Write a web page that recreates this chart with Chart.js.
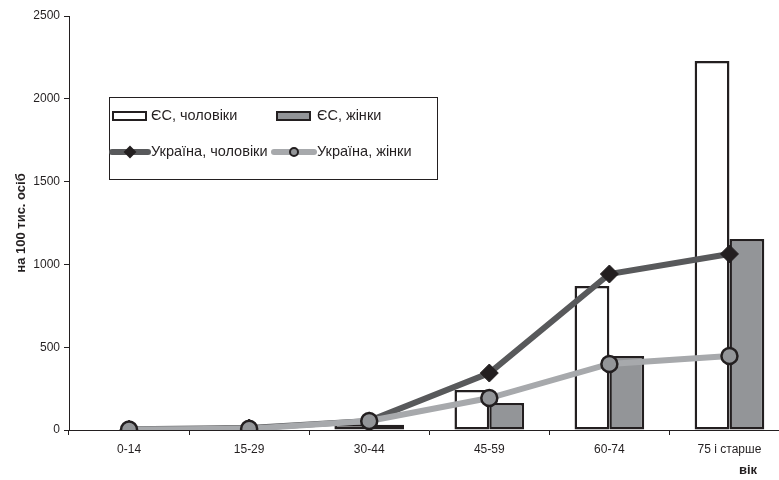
<!DOCTYPE html>
<html>
<head>
<meta charset="utf-8">
<script src="https://cdn.jsdelivr.net/npm/chart.js@4/dist/chart.umd.min.js"></script>
<style>
  html, body { margin: 0; padding: 0; background: #fff; overflow: hidden; }
  #wrap { width: 779px; height: 480px; overflow: hidden; position: relative; }
  canvas { display: block; }
</style>
</head>
<body>
<div id="wrap"><canvas id="c" width="800" height="480"></canvas></div>
<script>
// Age groups
const ageGroups = ['0-14', '15-29', '30-44', '45-59', '60-74', '75 і старше'];
// EU rates per 100 thousand
const euMen   = [3, 4, 35, 242, 870, 2228];
const euWomen = [2, 3, 32, 163, 447, 1153];
// Ukraine rates per 100 thousand
const uaMen   = [5, 12, 55, 344, 942, 1063];
const uaWomen = [3, 8, 54, 193, 399, 447];
// Value axis ticks
const yTicks = [0, 500, 1000, 1500, 2000, 2500];

const FONT = '"Liberation Sans", Arial, sans-serif';
const INK = '#231f20';

// Boxed two-column legend inside the plot area plus the "вік" caption
const decorPlugin = {
  id: 'decor',
  afterDraw(chart) {
    const ctx = chart.ctx;
    const ds = chart.data.datasets;
    ctx.save();
    // legend frame
    ctx.fillStyle = '#fff';
    ctx.fillRect(109.5, 97.5, 328, 82);
    ctx.strokeStyle = INK;
    ctx.lineWidth = 1;
    ctx.strokeRect(109.5, 97.5, 328, 82);

    ctx.font = '14.5px ' + FONT;
    ctx.fillStyle = INK;
    ctx.textBaseline = 'middle';
    ctx.textAlign = 'left';

    // bar swatches
    const drawBarSwatch = (x, y, fill) => {
      ctx.fillStyle = fill;
      ctx.fillRect(x, y - 4, 33, 8);
      ctx.strokeStyle = INK;
      ctx.lineWidth = 2;
      ctx.strokeRect(x, y - 4, 33, 8);
    };
    const byLabel = l => ds.find(d => d.label === l);
    const m = byLabel('ЄС, чоловіки'), w = byLabel('ЄС, жінки');
    const um = byLabel('Україна, чоловіки'), uw = byLabel('Україна, жінки');

    drawBarSwatch(113, 116, m.backgroundColor);
    ctx.fillStyle = INK;
    ctx.fillText(m.label, 151, 116);
    drawBarSwatch(277, 116, w.backgroundColor);
    ctx.fillStyle = INK;
    ctx.fillText(w.label, 317, 116);

    // line swatches
    const drawLineSwatch = (x1, x2, y, d) => {
      ctx.strokeStyle = d.borderColor;
      ctx.lineWidth = d.borderWidth;
      ctx.lineCap = 'round';
      ctx.beginPath();
      ctx.moveTo(x1, y);
      ctx.lineTo(x2, y);
      ctx.stroke();
      const cx = (x1 + x2) / 2;
      ctx.fillStyle = d.pointBackgroundColor;
      ctx.strokeStyle = d.pointBorderColor;
      ctx.lineWidth = 2;
      ctx.beginPath();
      if (d.pointStyle === 'rectRot') {
        ctx.moveTo(cx, y - 5); ctx.lineTo(cx + 5, y); ctx.lineTo(cx, y + 5); ctx.lineTo(cx - 5, y);
        ctx.closePath();
      } else {
        ctx.arc(cx, y, 4, 0, Math.PI * 2);
      }
      ctx.fill();
      ctx.stroke();
    };
    drawLineSwatch(112, 148, 152, um);
    ctx.fillStyle = INK;
    ctx.fillText(um.label, 151, 152);
    drawLineSwatch(274, 314, 152, uw);
    ctx.fillStyle = INK;
    ctx.fillText(uw.label, 317, 152);

    // axis caption at the bottom right
    ctx.font = 'bold 13px ' + FONT;
    ctx.fillStyle = INK;
    ctx.fillText('вік', 739, 470);
    ctx.restore();
  }
};

new Chart(document.getElementById('c'), {
  type: 'bar',
  data: {
    labels: ageGroups,
    datasets: [
      {
        type: 'line', label: 'Україна, жінки', data: uaWomen, order: 0,
        borderColor: '#a7a9ac', borderWidth: 6, tension: 0,
        pointStyle: 'circle', pointRadius: 8, pointHoverRadius: 8,
        pointBackgroundColor: '#939598', pointBorderColor: INK, pointBorderWidth: 2.5
      },
      {
        type: 'line', label: 'Україна, чоловіки', data: uaMen, order: 1,
        borderColor: '#58595b', borderWidth: 6, tension: 0,
        pointStyle: 'rectRot', pointRadius: 9, pointHoverRadius: 9,
        pointBackgroundColor: INK, pointBorderColor: INK, pointBorderWidth: 1
      },
      {
        label: 'ЄС, чоловіки', data: euMen, order: 2,
        backgroundColor: '#ffffff', borderColor: INK, borderWidth: 2.5,
        categoryPercentage: 0.58, barPercentage: 1, borderSkipped: false
      },
      {
        label: 'ЄС, жінки', data: euWomen, order: 2,
        backgroundColor: '#939598', borderColor: INK, borderWidth: 2.5,
        categoryPercentage: 0.58, barPercentage: 1, borderSkipped: false
      }
    ]
  },
  options: {
    responsive: false,
    animation: false,
    devicePixelRatio: 1,
    layout: { padding: { top: 16, right: 0, left: 0, bottom: 0 } },
    plugins: { legend: { display: false }, tooltip: { enabled: false } },
    scales: {
      x: {
        grid: { display: true, drawOnChartArea: false, offset: true, tickLength: 5, color: INK },
        border: { color: INK, width: 1 },
        ticks: { font: { family: FONT, size: 12 }, color: INK, padding: 7, maxRotation: 0 },
        afterFit(s) { s.height = 50; }
      },
      y: {
        min: 0, max: 2500,
        afterBuildTicks(s) { s.ticks = yTicks.map(v => ({ value: v })); },
        grid: { display: true, drawOnChartArea: false, tickLength: 5, color: INK },
        border: { color: INK, width: 1 },
        ticks: { font: { family: FONT, size: 12 }, color: INK, padding: 4, callback: v => String(v) },
        title: { display: true, text: 'на 100 тис. осіб', font: { family: FONT, size: 13, weight: 'bold' }, color: INK, padding: { top: 14, bottom: 0 } },
        afterFit(s) { s.width = 69; }
      }
    }
  },
  plugins: [decorPlugin]
});
</script>
</body>
</html>
